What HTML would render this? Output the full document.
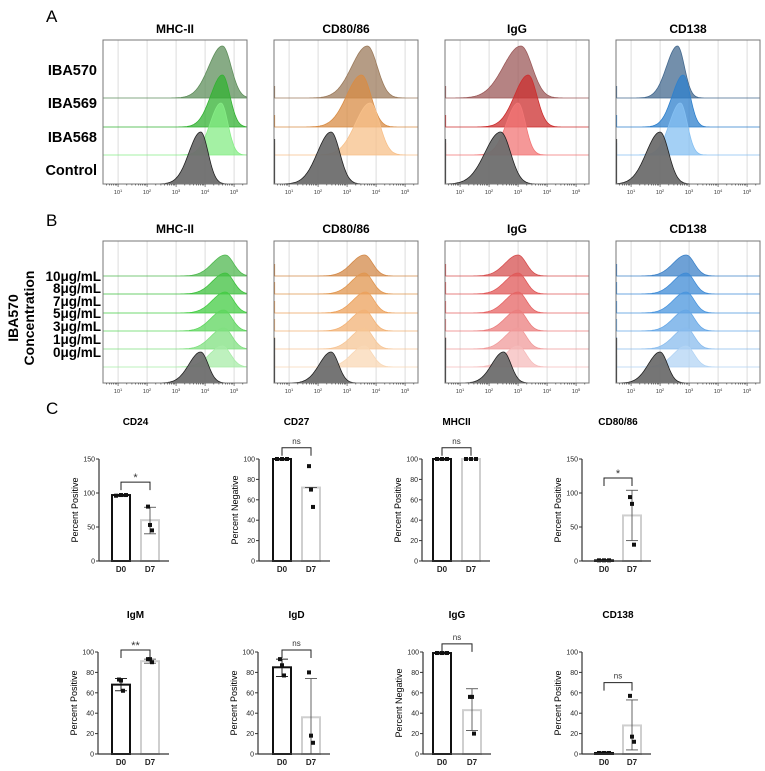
<!DOCTYPE html>
<html><head><meta charset="utf-8"><style>
body{margin:0;background:#fff}
svg{display:block;font-family:"Liberation Sans",Arial,sans-serif}
</style></head><body>
<svg id="fig" width="765" height="771" viewBox="0 0 765 771">
</svg>
<script>
// ---------- Histogram data (peak position in log10 decades, spread, height) ----------
const histMarkers = ["MHC-II","CD80/86","IgG","CD138"];
const rowsA = ["IBA570","IBA569","IBA568","Control"];
const peaksA = [[4.6,4.6,4.55,3.85],[3.7,3.5,3.8,2.45],[3.1,3.35,3.0,2.4],[2.6,2.8,2.7,2.0]];
const spreadA = [[0.35,0.3,0.28,0.3],[0.4,0.38,0.38,0.35],[0.45,0.35,0.3,0.4],[0.28,0.28,0.28,0.35]];
const rowsB = ["10μg/mL","8μg/mL","7μg/mL","5μg/mL","3μg/mL","1μg/mL","0μg/mL"];
const peaksB = [[4.7,4.7,4.7,4.65,4.65,4.6,3.85],[3.6,3.6,3.65,3.6,3.6,3.6,2.45],[3.0,3.0,3.0,3.0,3.0,3.0,2.5],[2.9,2.9,2.9,2.9,2.9,2.9,2.0]];
const tickDecades = [1,2,3,4,5];
// ---------- Bar chart data ----------
const barTitles = ["CD24","CD27","MHCII","CD80/86","IgM","IgD","IgG","CD138"];
const barYLabels = ["Percent Positive","Percent Negative","Percent Positive","Percent Positive","Percent Positive","Percent Positive","Percent Negative","Percent Positive"];
const barYMax = [150,100,100,150,100,100,100,100];
const barCats = ["D0","D7"];
const d0Means = [97,100,100,1,68,85,99,1];
const d7Means = [60,72,100,67,91,36,43,28];
const d0Points = [[96,97,97],[100,100,100],[100,100,100],[1,1,1],[73,72,62],[93,87,77],[99,99,99],[1,1,1]];
const d7Points = [[80,53,45],[93,70,53],[100,100,100],[94,84,24],[93,93,90],[80,18,11],[56,56,20],[57,17,12]];
const d0Err = [[95,98],[99,100],[99,100],[0,2],[62,74],[76,93],[98,100],[0,2]];
const d7Err = [[40,79],[72,72],[100,100],[30,104],[89,93],[0,74],[23,64],[4,53]];
const sigLabels = ["*","ns","ns","*","**","ns","ns","ns"];
const sigHeights = [116,111,111,122,102,102,108,70];

const NS="http://www.w3.org/2000/svg";
const svg=document.getElementById('fig');
function el(tag,attrs,parent){const e=document.createElementNS(NS,tag);for(const k in attrs)e.setAttribute(k,attrs[k]);(parent||svg).appendChild(e);return e;}
function txt(x,y,s,attrs,parent){const t=el('text',Object.assign({x:x,y:y},attrs),parent);t.textContent=s;return t;}

let t;
t=txt(46,22,"A",{'font-size':17});
t=txt(46,226,"B",{'font-size':17});
t=txt(46,414,"C",{'font-size':17});

const boxX=[103,274,445,616];
const boxW=144;
const palettes=[["#5f8f5c","#33b133","#86ec86"],["#9c7b5c","#d88c45","#f7c08a"],["#9c5a5a","#cc2f2f","#f27676"],["#44698f","#2f80cc","#86c0f2"]];
const paletteB=[["#50b850","#3fc03f","#44cc44","#5ed65e","#80e080","#a8eca8"],["#d38a4a","#e0964f","#eca15c","#f2b276","#f6c596","#f9d8b6"],["#d65050","#e05858","#e56464","#eb7d7d","#f09b9b","#f5bcbc"],["#3d82c8","#3f8bd6","#4a95de","#65a7e6","#8abced","#b3d4f4"]];

function xOfDec(bx,d){return bx+(d-0.48)*29;}
function histPath(bx,base,h,c,s){
  let pts=[];
  for(let px=0;px<=boxW;px+=1){
    const d=0.48+px/29;
    const sd=d<c?s*1.35:s*0.85;
    const y=base-h*Math.exp(-Math.pow(d-c,2)/(2*sd*sd));
    pts.push((bx+px).toFixed(1)+","+y.toFixed(1));
  }
  return "M"+bx+","+base+" L"+pts.join(" L")+" L"+(bx+boxW)+","+base+" Z";
}
function drawHistPanel(top,bottom,baselines,rows,peaks,spreads,heights,titleY,panel,isB,labelYs){
  for(let m=0;m<4;m++){
    const bx=boxX[m];
    const g=el('g',{});
    
    
    const tt=txt(bx+boxW/2,titleY,histMarkers[m],{'font-size':12,'font-weight':'bold','text-anchor':'middle'},g);
    
    
    el('rect',{x:bx,y:top,width:boxW,height:bottom-top,fill:'#fff',stroke:'none'},g);
    for(const d of tickDecades){el('line',{x1:xOfDec(bx,d),x2:xOfDec(bx,d),y1:top,y2:bottom,stroke:'#d4d4d4','stroke-width':0.8},g);}
    for(let r=0;r<rows.length;r++){
      const base=baselines[r];
      const last=r===rows.length-1;
      let col;
      if(last) col="#6e6e6e";
      else col=isB?paletteB[m][r]:palettes[m][r];
      const sp=spreads?spreads[m][r]:(last?0.3:0.33);
      const p=el('path',{d:histPath(bx,base,heights[last?1:0],peaks[m][r],sp),fill:col,'fill-opacity':last?0.95:0.75,stroke:last?'#222':col,'stroke-width':0.8},g);
      
      
      if(m>=1) el('line',{x1:bx+0.5,x2:bx+0.5,y1:base,y2:base-(last?45:12),stroke:last?'#222':col,'stroke-width':1.2},g);
    }
    el('rect',{x:bx,y:top,width:boxW,height:bottom-top,fill:'none',stroke:'#777','stroke-width':1},g);
    for(let d=0;d<6;d++)for(let k=1;k<10;k++){const x=xOfDec(bx,d+Math.log10(k));if(x>bx&&x<bx+boxW)el('line',{x1:x,x2:x,y1:bottom,y2:bottom+(k===1?3:1.5),stroke:'#333','stroke-width':0.6},g);}
    for(const d of tickDecades){
      const tk=el('text',{x:xOfDec(bx,d),y:bottom+10,'font-size':5.5,'text-anchor':'middle',fill:'#333'},g);
      tk.textContent="10";
      const sup=el('tspan',{dy:-2,'font-size':4},tk);sup.textContent=String(d);
    }
  }
  const lx=isB?101:97;
  for(let r=0;r<rows.length;r++){
    const lt=txt(lx,labelYs[r],rows[r],{'font-size':isB?13.5:14.5,'font-weight':'bold','text-anchor':'end'});
    
    
  }
}
drawHistPanel(40,184,[98,127,155,184],rowsA,peaksA,spreadA,[52,52],33,'a',false,[75,108,142,175]);
drawHistPanel(241,383,[276,294,313,331,349,367,383],rowsB,peaksB,null,[21,31],233,'b',true,[281,293,306,318,331,344,357]);
const vl=el('g',{transform:'translate(20,318) rotate(-90)'});


txt(0,-2,"IBA570",{'font-size':14,'font-weight':'bold','text-anchor':'middle'},vl);
txt(0,14,"Concentration",{'font-size':14,'font-weight':'bold','text-anchor':'middle'},vl);

// ---------- bar charts ----------
const chartAx=[99,259,422,582,98,258,423,582];
const chartC0=[121,282,442,604,121,282,442,604];
const chartC1=[150,311,471,632,150,311,472,632];
const rowY0=[561,561,561,561,754,754,754,754];
const rowYTop=[459,459,459,459,652,652,652,652];
for(let i=0;i<8;i++){
  const g=el('g',{});
  
  
  const ax=chartAx[i],y0=rowY0[i],yt=rowYTop[i],ymax=barYMax[i];
  const ys=v=>y0-(v/ymax)*(y0-yt);
  const c=[chartC0[i],chartC1[i]];
  const tt=txt((c[0]+c[1])/2,y0-136,barTitles[i],{'font-size':10,'font-weight':'bold','text-anchor':'middle'},g);
  
  const yl=txt(0,0,barYLabels[i],{'font-size':9,'text-anchor':'middle',transform:'translate('+(ax-21)+','+((y0+yt)/2)+') rotate(-90)'},g);
  
  const step=ymax===150?50:20;
  for(let v=0;v<=ymax;v+=step){
    el('line',{x1:ax-3,x2:ax,y1:ys(v),y2:ys(v),stroke:'#333','stroke-width':1},g);
    txt(ax-4,ys(v)+2.5,String(v),{'font-size':7,'text-anchor':'end',fill:'#222'},g);
  }
  const means=[d0Means[i],d7Means[i]],pts=[d0Points[i],d7Points[i]],errs=[d0Err[i],d7Err[i]];
  for(let k=0;k<2;k++){
    const b=el('rect',{x:c[k]-9,y:ys(means[k]),width:18,height:y0-ys(means[k]),fill:'#fff',stroke:k?'#cfcfcf':'#111','stroke-width':2},g);
    
    
    const ec=k?'#555':'#111';
    el('line',{x1:c[k],x2:c[k],y1:ys(errs[k][0]),y2:ys(errs[k][1]),stroke:ec,'stroke-width':0.9},g);
    for(const ev of errs[k])el('line',{x1:c[k]-6,x2:c[k]+6,y1:ys(ev),y2:ys(ev),stroke:ec,'stroke-width':0.9},g);
    pts[k].forEach((pv,j)=>{
      const px=c[k]+(j-1)*(means[k]>95||means[k]<3?5:2);
      const p=el('rect',{x:px-2,y:ys(pv)-2,width:4,height:4,fill:'#111'},g);
      
      
    });
    txt(c[k],y0+11,barCats[k],{'font-size':8,'font-weight':'bold','text-anchor':'middle',fill:'#222'},g);
  }
  el('line',{x1:ax,x2:ax,y1:yt,y2:y0,stroke:'#333','stroke-width':1.2},g);
  el('line',{x1:ax,x2:c[1]+19,y1:y0,y2:y0,stroke:'#333','stroke-width':1.2},g);
  const sy=ys(sigHeights[i]);
  const br=el('path',{d:'M'+c[0]+','+(sy+8)+' V'+sy+' H'+c[1]+' V'+(sy+8),fill:'none',stroke:'#222','stroke-width':1},g);
  
  txt((c[0]+c[1])/2,sy-(sigLabels[i]==='ns'?4:1),sigLabels[i],{'font-size':sigLabels[i]==='ns'?8:11,'text-anchor':'middle',fill:'#333'},g);
}
</script>
</body></html>
